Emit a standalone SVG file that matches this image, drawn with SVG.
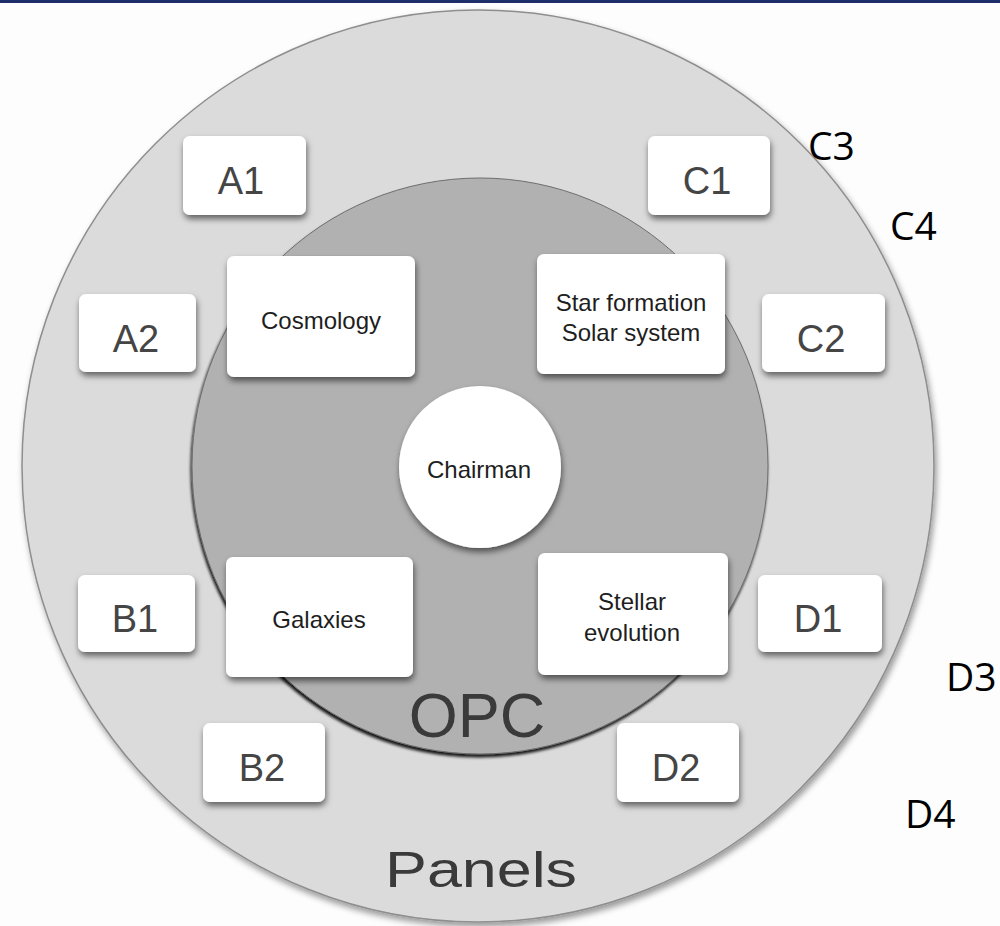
<svg xmlns="http://www.w3.org/2000/svg" width="1000" height="926" viewBox="0 0 1000 926">
<style>
.box{fill:#ffffff;filter:url(#shadow)}
.big{font-family:"Liberation Sans",Arial,sans-serif;font-size:38px;fill:#454545;text-anchor:middle}
.small{font-family:"Liberation Sans",Arial,sans-serif;font-size:24px;fill:#1e1e1e;text-anchor:middle}
.side{font-family:"Open Sans","Liberation Sans",sans-serif;font-size:39px;fill:#000000}
.ring{font-family:"Liberation Sans",Arial,sans-serif;fill:#3a3a3a;text-anchor:middle}
</style>
<defs>
<filter id="shadow" x="-20%" y="-20%" width="140%" height="150%">
<feDropShadow dx="1" dy="4" stdDeviation="3" flood-color="#000" flood-opacity="0.55"/>
</filter>
<filter id="outerShadow" x="-10%" y="-10%" width="120%" height="120%">
<feDropShadow dx="2" dy="4" stdDeviation="3" flood-color="#000" flood-opacity="0.4"/>
</filter>
<filter id="innerShadow" x="-10%" y="-10%" width="120%" height="120%">
<feDropShadow dx="-1" dy="3" stdDeviation="1.5" flood-color="#000" flood-opacity="0.9"/>
</filter>
</defs>
<rect x="0" y="0" width="1000" height="926" fill="#fdfdfd"/>
<rect x="0" y="0" width="1000" height="3" fill="#1c2f6b"/>

<g id="panels-ring">
<circle cx="478" cy="466" r="456" fill="#dbdbdb" stroke="#8e8e8e" stroke-width="1.5" filter="url(#outerShadow)"/>
<text class="ring" x="481" y="887" font-size="50" textLength="192" lengthAdjust="spacingAndGlyphs">Panels</text>
</g>
<g id="opc-ring">
<circle cx="480" cy="466" r="288" fill="#b1b1b1" stroke="#6e6e6e" stroke-width="1" filter="url(#innerShadow)"/>
<text class="ring" x="477" y="737" font-size="63">OPC</text>
</g>

<g id="connectors"></g>

<g id="chairman">
<circle cx="480" cy="467" r="81" fill="#ffffff" filter="url(#shadow)"/>
<text class="small" x="479" y="478">Chairman</text>
</g>

<g id="A1"><rect class="box" x="183" y="136" width="123" height="79" rx="7"/><text class="big" x="241" y="194">A1</text></g>
<g id="A2"><rect class="box" x="79" y="294" width="117" height="78" rx="7"/><text class="big" x="136" y="352">A2</text></g>
<g id="C1"><rect class="box" x="648" y="136" width="122" height="79" rx="7"/><text class="big" x="707" y="194">C1</text></g>
<g id="C2"><rect class="box" x="762" y="294" width="123" height="78" rx="7"/><text class="big" x="821" y="352">C2</text></g>
<g id="B1"><rect class="box" x="78" y="575" width="117" height="77" rx="7"/><text class="big" x="135" y="632">B1</text></g>
<g id="B2"><rect class="box" x="203" y="723" width="122" height="79" rx="7"/><text class="big" x="262" y="781">B2</text></g>
<g id="D1"><rect class="box" x="758" y="575" width="124" height="77" rx="7"/><text class="big" x="818" y="632">D1</text></g>
<g id="D2"><rect class="box" x="617" y="723" width="122" height="79" rx="7"/><text class="big" x="676" y="781">D2</text></g>

<g id="cosmology"><rect class="box" x="227" y="256" width="188" height="121" rx="7"/><text class="small" x="321" y="329">Cosmology</text></g>
<g id="star-formation"><rect class="box" x="537" y="254" width="188" height="120" rx="7"/><text class="small" x="631" y="311">Star formation</text><text class="small" x="631" y="341">Solar system</text></g>
<g id="galaxies"><rect class="box" x="226" y="557" width="187" height="120" rx="7"/><text class="small" x="319" y="628">Galaxies</text></g>
<g id="stellar-evolution"><rect class="box" x="538" y="553" width="190" height="122" rx="7"/><text class="small" x="632" y="610">Stellar</text><text class="small" x="632" y="641">evolution</text></g>

<g id="C3"><text class="side" x="808" y="160">C3</text></g>
<g id="C4"><text class="side" x="890" y="240">C4</text></g>
<g id="D3"><text class="side" x="946" y="691">D3</text></g>
<g id="D4"><text class="side" x="905" y="828">D4</text></g>
</svg>
